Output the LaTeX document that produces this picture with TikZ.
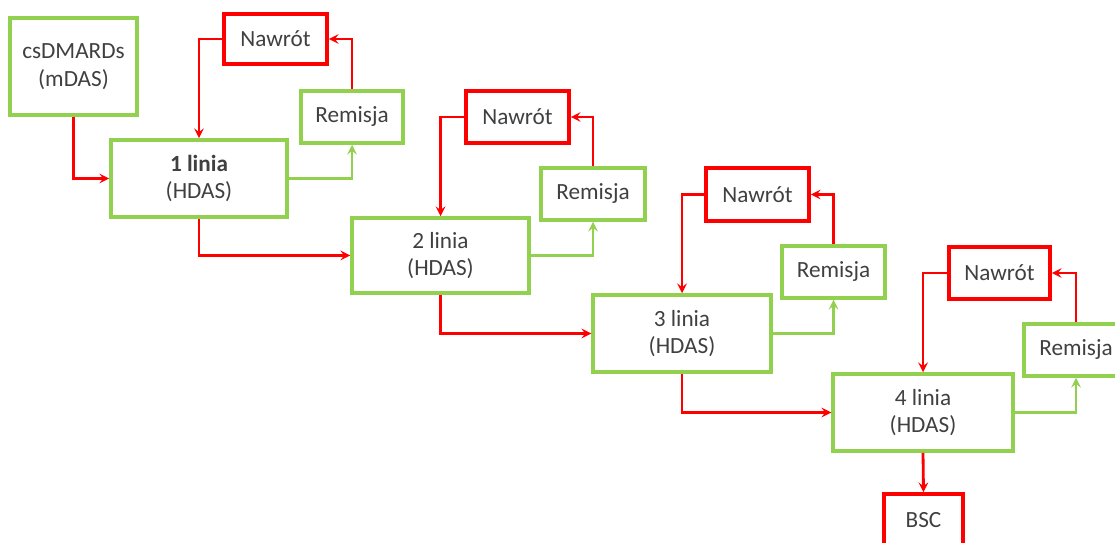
\documentclass[tikz,border=0pt]{standalone}
\usepackage{fontspec}
\setmainfont{Carlito}
\definecolor{zielony}{RGB}{146,208,80}
\definecolor{czerwony}{RGB}{255,0,0}
\definecolor{tekst}{RGB}{64,64,64}
\begin{document}
\begin{tikzpicture}[>=stealth,x=0.025cm,y=-0.025cm,
  font=\fontsize{16.5}{19.5}\selectfont,text=tekst,
  zbox/.style={draw=zielony,line width=2.5pt,fill=white,align=center,inner sep=0pt},
  cbox/.style={draw=czerwony,line width=2.5pt,fill=white,align=center,inner sep=0pt},
  cline/.style={->,draw=czerwony,line width=2pt},
  zline/.style={->,draw=zielony,line width=2pt}]

\useasboundingbox (0,0) rectangle (1115,543);

% Start
\node[zbox,minimum width=127*0.025cm,minimum height=97*0.025cm] (cs) at (73.5,66.5) {csDMARDs\\(mDAS)};

% Linie leczenia
\node[zbox,minimum width=176*0.025cm,minimum height=77*0.025cm] (l1) at (199,178.5) {\textbf{1 linia}\\(HDAS)};
\node[zbox,minimum width=177*0.025cm,minimum height=75*0.025cm] (l2) at (440.5,255.5) {2 linia\\(HDAS)};
\node[zbox,minimum width=178*0.025cm,minimum height=77*0.025cm] (l3) at (682,333.5) {3 linia\\(HDAS)};
\node[zbox,minimum width=180*0.025cm,minimum height=77*0.025cm] (l4) at (923,412.5) {4 linia\\(HDAS)};

% Remisje
\node[zbox,minimum width=102*0.025cm,minimum height=52*0.025cm] (r1) at (352,117) {Remisja};
\node[zbox,minimum width=104*0.025cm,minimum height=52*0.025cm] (r2) at (593,194) {Remisja};
\node[zbox,minimum width=103*0.025cm,minimum height=52*0.025cm] (r3) at (833.5,272) {Remisja};
\node[zbox,minimum width=104*0.025cm,minimum height=52*0.025cm] (r4) at (1076,350) {Remisja};

% Nawroty
\node[cbox,minimum width=103*0.025cm,minimum height=50*0.025cm] (n1) at (275.5,39) {Nawrót};
\node[cbox,minimum width=103*0.025cm,minimum height=52*0.025cm] (n2) at (517.5,117) {Nawrót};
\node[cbox,minimum width=103*0.025cm,minimum height=53*0.025cm] (n3) at (757.5,194.5) {Nawrót};
\node[cbox,minimum width=101*0.025cm,minimum height=52*0.025cm] (n4) at (999.5,273) {Nawrót};

\node[cbox,minimum width=79*0.025cm,minimum height=52*0.025cm] (bsc) at (923.5,520) {BSC};

% Przejscia
\draw[cline] (cs.south) |- (l1.west);
\draw[cline] (l1.south) |- (l2.west);
\draw[cline] (l2.south) |- (l3.west);
\draw[cline] (l3.south) |- (l4.west);
\draw[cline] (l4.south) -- (bsc.north);

% Petle remisja - nawrot
\draw[zline] (l1.east) -| (r1.south);
\draw[zline] (l2.east) -| (r2.south);
\draw[zline] (l3.east) -| (r3.south);
\draw[zline] (l4.east) -| (r4.south);

\draw[cline] (r1.north) |- (n1.east);
\draw[cline] (r2.north) |- (n2.east);
\draw[cline] (r3.north) |- (n3.east);
\draw[cline] (r4.north) |- (n4.east);

\draw[cline] (n1.west) -| (l1.north);
\draw[cline] (n2.west) -| (l2.north);
\draw[cline] (n3.west) -| (l3.north);
\draw[cline] (n4.west) -| (l4.north);

\end{tikzpicture}
\end{document}
